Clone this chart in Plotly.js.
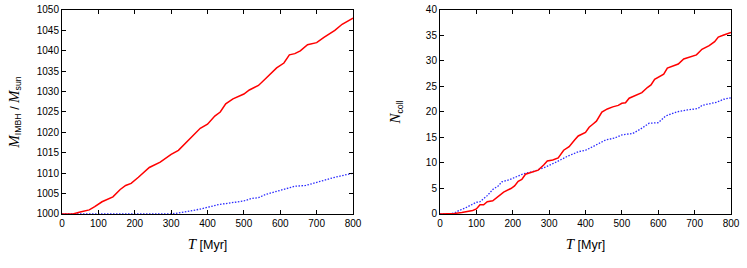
<!DOCTYPE html>
<html><head><meta charset="utf-8">
<script src="https://cdn.plot.ly/plotly-3.0.1.min.js"></script>
<style>body{margin:0;padding:0;background:#fff}#c{width:747px;height:268px}</style>
</head><body><div id="c"></div>
<script>
// Left panel: IMBH mass vs time
const massRedT = [0,30,50,75,90,110,140,160,175,190,210,240,270,300,320,350,380,400,420,435,450,470,500,515,540,560,590,610,625,640,655,675,700,720,750,770,800];
const massRedM = [1000,1000,1000.5,1001,1001.8,1003,1004.2,1006,1007,1007.5,1009,1011.4,1012.7,1014.6,1015.6,1018.2,1021,1022,1024,1025,1027,1028.2,1029.4,1030.4,1031.5,1033.2,1035.8,1037,1039,1039.3,1040,1041.5,1042,1043.3,1045,1046.5,1048];
const massBlueT = [0,300,330,380,430,480,500,520,540,560,600,640,670,700,750,800];
const massBlueM = [1000,1000,1000.4,1001.2,1002.3,1003,1003.2,1003.8,1004,1004.8,1005.8,1006.8,1007,1007.8,1009,1010];
// Right panel: number of collisions vs time
const collRedT = [0,40,60,90,100,110,120,130,145,160,175,195,205,215,225,235,255,270,285,295,310,325,340,355,370,380,400,410,420,430,445,460,475,490,500,510,520,540,555,570,580,590,605,615,625,640,655,670,690,705,720,740,755,765,780,790,800];
const collRedN = [0,0.1,0.3,0.7,1.0,1.8,1.8,2.4,2.6,3.5,4.3,5.0,5.5,6.4,6.8,7.8,8.3,8.6,9.6,10.4,10.6,11.0,12.5,13.2,14.5,15.3,16.0,17.0,17.6,18.2,20.0,20.6,21.0,21.3,21.7,21.8,22.7,23.3,23.8,24.8,25.3,26.4,27,27.4,28.6,29.0,29.4,30.4,30.8,31.2,32.3,33.0,33.8,34.7,35.1,35.3,35.6];
const collBlueT = [0,20,40,50,70,90,100,110,130,145,160,170,190,210,230,260,290,320,350,380,400,420,440,455,480,500,530,550,575,600,620,650,680,710,720,760,780,800];
const collBlueN = [0,0,0.2,0.6,1.2,2.0,2.3,2.4,3.6,4.8,5.5,6.3,6.7,7.3,7.9,8.4,9.2,10.2,11.3,12.2,12.5,13.2,13.9,14.5,14.9,15.5,15.8,16.6,17.8,17.9,19.2,20,20.4,20.7,21.3,21.9,22.5,22.8];

const xTicks = [0,100,200,300,400,500,600,700,800];
const massTicks = [1000,1005,1010,1015,1020,1025,1030,1035,1040,1045,1050];
const collTicks = [0,5,10,15,20,25,30,35,40];

const red = '#ff0000', blue = '#2a2aff';
const dots = '1.5px,1.5px';
const traces = [
  {x: massBlueT, y: massBlueM, xaxis:'x', yaxis:'y', mode:'lines', line:{color:blue, width:1.3, dash:dots}},
  {x: massRedT, y: massRedM, xaxis:'x', yaxis:'y', mode:'lines', line:{color:red, width:1.5}},
  {x: collBlueT, y: collBlueN, xaxis:'x2', yaxis:'y2', mode:'lines', line:{color:blue, width:1.3, dash:dots}},
  {x: collRedT, y: collRedN, xaxis:'x2', yaxis:'y2', mode:'lines', line:{color:red, width:1.5}}
];
const serif = 'Liberation Serif';
const ax = {
  showline:true, linecolor:'#000', linewidth:1, mirror:'allticks', ticks:'inside', ticklen:4, tickcolor:'#000',
  showgrid:false, zeroline:false, layer:'above traces', tickfont:{family:'Liberation Sans', size:10, color:'#000'}
};
const xt = {text:'<span style="font-family:'+serif+';font-style:italic;font-size:15px">T</span> [Myr]', font:{family:'Liberation Sans', size:12.5, color:'#000'}, standoff:12};
const layout = {
  width:747, height:268, margin:{l:0,r:0,t:0,b:0}, showlegend:false,
  paper_bgcolor:'#fff', plot_bgcolor:'#fff',
  xaxis: Object.assign({}, ax, {domain:[0.083,0.4726], range:[0,800], tickvals:xTicks, ticktext:xTicks.map(String), anchor:'y', title:xt}),
  yaxis: Object.assign({}, ax, {domain:[0.2015,0.9627], range:[1000,1050], tickvals:massTicks, ticktext:massTicks.map(String), anchor:'x',
    title:{text:'<span style="font-family:'+serif+';font-style:italic;font-size:15px">M</span><sub>IMBH</sub> / <span style="font-family:'+serif+';font-style:italic;font-size:15px">M</span><sub>sun</sub>', font:{family:'Liberation Sans', size:12.5, color:'#000'}, standoff:14}}),
  xaxis2: Object.assign({}, ax, {domain:[0.589,0.9786], range:[0,800], tickvals:xTicks, ticktext:xTicks.map(String), anchor:'y2', title:xt}),
  yaxis2: Object.assign({}, ax, {domain:[0.2015,0.9627], range:[0,40], tickvals:collTicks, ticktext:collTicks.map(String), anchor:'x2',
    title:{text:'<span style="font-family:'+serif+';font-style:italic;font-size:15px">N</span><sub>coll</sub>', font:{family:'Liberation Sans', size:12.5, color:'#000'}, standoff:22}})
};
Plotly.newPlot('c', traces, layout, {staticPlot:true});
</script></body></html>
